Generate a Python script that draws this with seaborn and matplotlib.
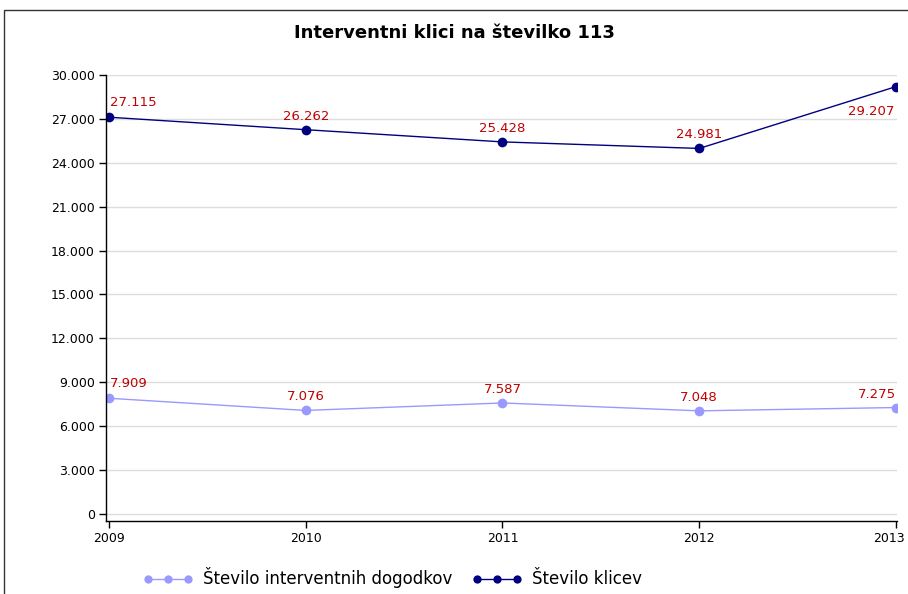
import matplotlib
matplotlib.use("Agg")
import matplotlib.pyplot as plt
import matplotlib.patches as mpatches
import matplotlib.transforms as mtransforms
from matplotlib.ticker import FuncFormatter
import seaborn as sns
import pandas as pd

years = [2009, 2010, 2011, 2012, 2013]
dogodki = [7909, 7076, 7587, 7048, 7275]
klici = [27115, 26262, 25428, 24981, 29207]
series_names = ["Število interventnih dogodkov", "Število klicev"]
title = "Interventni klici na številko 113"

df = pd.DataFrame({
    "Leto": years * 2,
    "Vrednost": dogodki + klici,
    "Serija": [series_names[0]] * len(years) + [series_names[1]] * len(years),
})

sns.set_theme(style="white")
plt.rcParams["font.family"] = ["DejaVu Sans"]
plt.rcParams["text.color"] = "black"
plt.rcParams["xtick.color"] = "black"
plt.rcParams["ytick.color"] = "black"

fig = plt.figure(figsize=(9.08, 5.94), dpi=100)
ax = fig.add_axes([106 / 908, 1 - 521 / 594, (897 - 106) / 908, (521 - 75) / 594])

palette = {series_names[0]: "#9999ff", series_names[1]: "#000080"}
sns.lineplot(data=df, x="Leto", y="Vrednost", hue="Serija", palette=palette,
             marker="o", markersize=7, markeredgewidth=0, linewidth=1.0, ax=ax)

ax.set_xlim(2008.985, 2013.005)
ax.set_ylim(-480, 30000)
ax.set_yticks(range(0, 30001, 3000))
ax.set_xticks(years)
ax.yaxis.set_major_formatter(FuncFormatter(lambda v, p: f"{int(v):,}".replace(",", ".")))
ax.grid(axis="y", color="#dddddd", linewidth=1.0)
ax.set_axisbelow(True)
ax.set_xlabel("")
ax.set_ylabel("")
for s in ["top", "right"]:
    ax.spines[s].set_visible(False)
for s in ["left", "bottom"]:
    ax.spines[s].set_color("#000000")
    ax.spines[s].set_linewidth(1.0)
ax.tick_params(axis="both", which="major", length=5, width=1, color="black",
               labelsize=9, left=True, bottom=True, pad=3)
fig.canvas.draw()
last = ax.get_xticklabels()[-1]
last.set_horizontalalignment("right")
last.set_transform(last.get_transform() + mtransforms.ScaledTranslation(0.09, 0, fig.dpi_scale_trans))

red = "#c00000"
fs = 9.5
for vals in (dogodki, klici):
    for i, (x, v) in enumerate(zip(years, vals)):
        lab = f"{v:,}".replace(",", ".")
        if x == 2013 and v > 20000:
            ax.annotate(lab, (x, v), xytext=(-1, -13), textcoords="offset points",
                        ha="right", va="top", color=red, fontsize=fs)
        elif x == 2009:
            ax.annotate(lab, (x, v), xytext=(1, 6), textcoords="offset points",
                        ha="left", va="bottom", color=red, fontsize=fs)
        elif x == 2013:
            ax.annotate(lab, (x, v), xytext=(-14, 5), textcoords="offset points",
                        ha="center", va="bottom", color=red, fontsize=fs)
        else:
            ax.annotate(lab, (x, v), xytext=(0, 5), textcoords="offset points",
                        ha="center", va="bottom", color=red, fontsize=fs)

fig.text(0.5, 1 - 33 / 594, title, ha="center", va="center", fontsize=13, fontweight="bold")

leg = ax.legend(loc="center", bbox_to_anchor=(0.432, 1 - 578 / 594), bbox_transform=fig.transFigure,
                ncol=2, frameon=False, fontsize=12, handlelength=3.0, columnspacing=1.2,
                handletextpad=0.6, numpoints=3, markerscale=0.85)

fig.patches.append(mpatches.Rectangle((4 / 908, -0.1), 1.2, 1 - 10 / 594 + 0.1,
                                      transform=fig.transFigure, fill=False,
                                      edgecolor="#333333", linewidth=1.0))

fig.savefig("out.png", dpi=100)
